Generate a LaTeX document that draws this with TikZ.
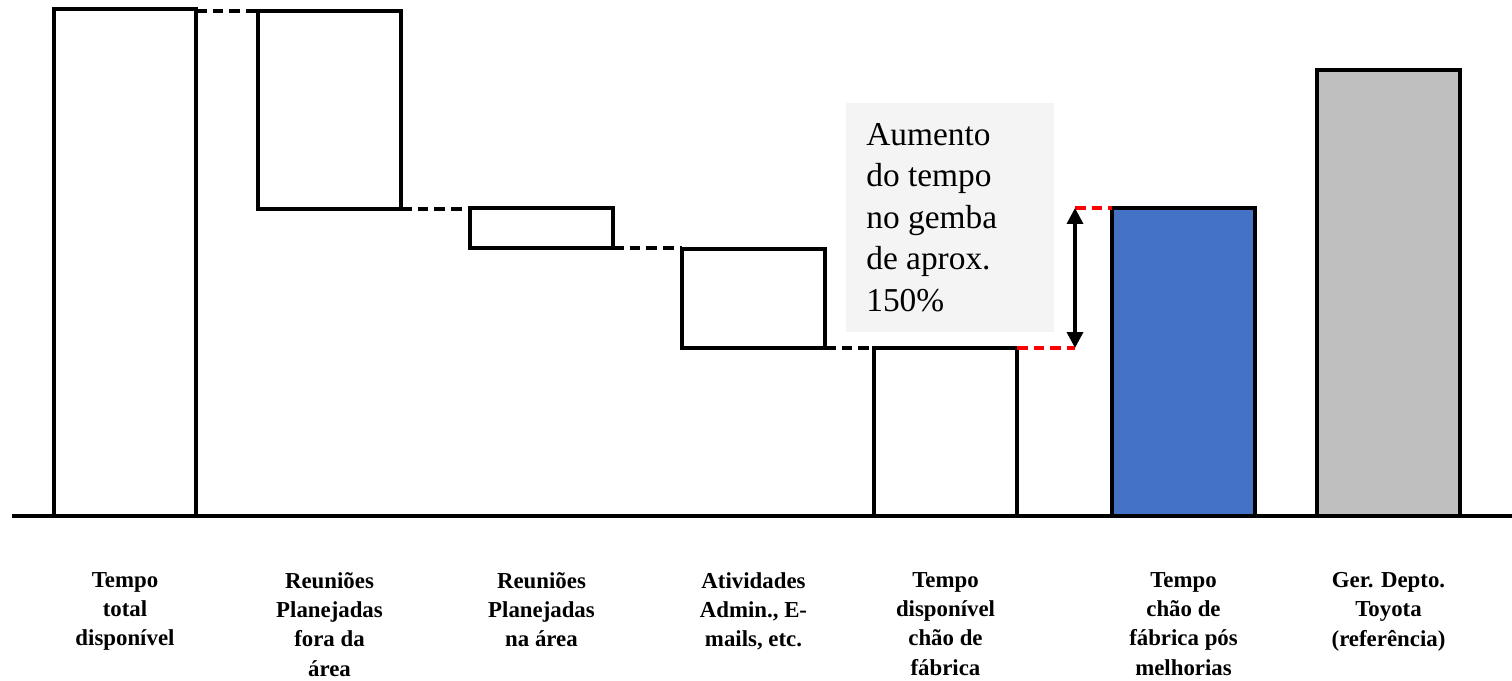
\documentclass[tikz,border=0pt]{standalone}
\usepackage{fontspec}
\setmainfont{Liberation Serif}
\usetikzlibrary{fit,arrows.meta}
\definecolor{barblue}{HTML}{4472C4}
\definecolor{bargray}{HTML}{BFBFBF}
\definecolor{notegray}{HTML}{F4F4F4}
\begin{document}
\begin{tikzpicture}[x=0.02cm,y=-0.02cm,
  bar/.style={draw=black,line width=2pt,fill=white,inner sep=0pt,outer sep=0pt},
  conn/.style={draw=black,line width=1.8pt,dash pattern=on 6pt off 3.5pt},
  redconn/.style={draw=red,line width=1.8pt,dash pattern=on 6pt off 3.5pt},
  lbl/.style={anchor=north,align=center,font=\fontsize{13}{16.7}\selectfont\bfseries,inner sep=0pt},
  note/.style={fill=notegray,inner sep=0pt},
  dimarrow/.style={line width=2pt,{Triangle[length=9pt,width=9pt]}-{Triangle[length=9pt,width=9pt]}}
]
\useasboundingbox (0,0) rectangle (1512,680);
% note box
\node (nb) [note,fit={(846,103) (1054,332)}] {};
\node (nt) [anchor=north west,align=left,inner sep=0pt,font=\fontsize{19}{23.6}\selectfont] at (866,123) {Aumento\\do tempo\\no gemba\\de aprox.\\150\%};
% bars
\node (b1) [bar,fit={(54,9) (196,516)}] {};
\node (b2) [bar,fit={(258,11) (401,209)}] {};
\node (b3) [bar,fit={(470,208) (613,248)}] {};
\node (b4) [bar,fit={(682,249) (825,348)}] {};
\node (b5) [bar,fit={(874,348) (1017,516)}] {};
\node (b6) [bar,fill=barblue,fit={(1112,208) (1255,516)}] {};
\node (b7) [bar,fill=bargray,fit={(1317,70) (1460,516)}] {};
% axis
\coordinate (axL) at (12,516);
\coordinate (axR) at (1512,516);
\draw[line width=2pt] (axL) -- (axR);
% connectors
\draw[conn] (b2.north west -| b1.east) -- (b2.north west);
\draw[conn] (b2.south east) -- (b2.south east -| b3.west);
\draw[conn] (b3.south east) -- (b3.south east -| b4.west);
\draw[conn] (b4.south east) -- (b5.north west);
\coordinate (a1) at (1075,348);
\coordinate (a2) at (1075,208);
\draw[redconn] (b5.north east) -- (a1);
\draw[redconn] (a2) -- (b6.north west);
\draw[dimarrow] (a1) -- (a2);
% labels
\node (l1) [lbl] at (125,572) {Tempo\\total\\disponível};
\node (l2) [lbl] at (329.5,572) {Reuniões\\Planejadas\\fora da\\área};
\node (l3) [lbl] at (541.5,572) {Reuniões\\Planejadas\\na área};
\node (l4) [lbl] at (753.5,572) {Atividades\\Admin., E-\\mails, etc.};
\node (l5) [lbl] at (945.5,572) {Tempo\\disponível\\chão de\\fábrica};
\node (l6) [lbl] at (1183.5,572) {Tempo\\chão de\\fábrica pós\\melhorias};
\node (l7) [lbl] at (1388.5,572) {Ger. Depto.\\Toyota\\(referência)};
\end{tikzpicture}
\end{document}
